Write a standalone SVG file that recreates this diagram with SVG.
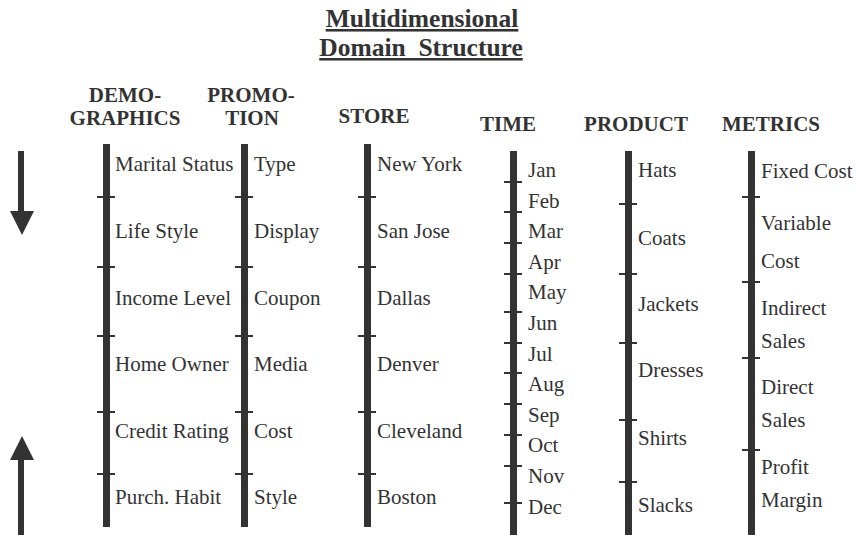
<svg xmlns="http://www.w3.org/2000/svg" width="856" height="535" viewBox="0 0 856 535" font-family="'Liberation Serif', 'Times New Roman', Times, serif">
<style>
.t{font-size:21px;fill:#333}
.h{font-size:21px;font-weight:bold;fill:#333;text-anchor:middle}
.ti{font-size:25.5px;font-weight:bold;fill:#333;text-anchor:middle;text-decoration:underline}
.bar{fill:#333}
.tick{stroke:#333;stroke-width:2}
</style>
<rect width="856" height="535" fill="#fff"/>
<g id="title">
<text class="ti" x="422" y="27">Multidimensional</text>
<text class="ti" x="421" y="56" xml:space="preserve">Domain  Structure</text>
</g>
<g id="arrows">
<rect class="bar" x="18" y="151" width="6" height="62"/>
<polygon class="bar" points="10,211 34,211 22,235"/>
<rect class="bar" x="18" y="458" width="6" height="77"/>
<polygon class="bar" points="22,436 10,460 34,460"/>
</g>
<g id="demographics">
<text class="h" x="125" y="102">DEMO-</text>
<text class="h" x="125" y="125">GRAPHICS</text>
<rect class="bar" x="103" y="144" width="7" height="383"/>
<path class="tick" d="M97 197H115M97 267H115M97 336H115M97 412H115M97 474H115"/>
<text class="t" x="115" y="171">Marital Status</text>
<text class="t" x="115" y="238">Life Style</text>
<text class="t" x="115" y="305">Income Level</text>
<text class="t" x="115" y="371">Home Owner</text>
<text class="t" x="115" y="438">Credit Rating</text>
<text class="t" x="115" y="504">Purch. Habit</text>
</g>
<g id="promotion">
<text class="h" x="251" y="102">PROMO-</text>
<text class="h" x="252" y="125">TION</text>
<rect class="bar" x="241" y="144" width="7" height="383"/>
<path class="tick" d="M235 197H253M235 267H253M235 336H253M235 412H253M235 474H253"/>
<text class="t" x="254" y="171">Type</text>
<text class="t" x="254" y="238">Display</text>
<text class="t" x="254" y="305">Coupon</text>
<text class="t" x="254" y="371">Media</text>
<text class="t" x="254" y="438">Cost</text>
<text class="t" x="254" y="504">Style</text>
</g>
<g id="store">
<text class="h" x="374" y="123">STORE</text>
<rect class="bar" x="364" y="144" width="7" height="383"/>
<path class="tick" d="M358 197H376M358 267H376M358 336H376M358 412H376M358 474H376"/>
<text class="t" x="377" y="171">New York</text>
<text class="t" x="377" y="238">San Jose</text>
<text class="t" x="377" y="305">Dallas</text>
<text class="t" x="377" y="371">Denver</text>
<text class="t" x="377" y="438">Cleveland</text>
<text class="t" x="377" y="504">Boston</text>
</g>
<g id="time">
<text class="h" x="508" y="131">TIME</text>
<rect class="bar" x="510" y="151" width="7" height="384"/>
<path class="tick" d="M504 182H522M504 212H522M504 243H522M504 274H522M504 312H522M504 343H522M504 373H522M504 404H522M504 435H522M504 466H522M504 503H522"/>
<text class="t" x="528" y="177">Jan</text>
<text class="t" x="528" y="208">Feb</text>
<text class="t" x="528" y="238">Mar</text>
<text class="t" x="528" y="269">Apr</text>
<text class="t" x="528" y="299">May</text>
<text class="t" x="528" y="330">Jun</text>
<text class="t" x="528" y="361">Jul</text>
<text class="t" x="528" y="391">Aug</text>
<text class="t" x="528" y="422">Sep</text>
<text class="t" x="528" y="452">Oct</text>
<text class="t" x="528" y="483">Nov</text>
<text class="t" x="528" y="514">Dec</text>
</g>
<g id="product">
<text class="h" x="636" y="131">PRODUCT</text>
<rect class="bar" x="625" y="151" width="7" height="384"/>
<path class="tick" d="M619 204H637M619 274H637M619 343H637M619 420H637M619 482H637"/>
<text class="t" x="638" y="177">Hats</text>
<text class="t" x="638" y="245">Coats</text>
<text class="t" x="638" y="311">Jackets</text>
<text class="t" x="638" y="377">Dresses</text>
<text class="t" x="638" y="445">Shirts</text>
<text class="t" x="638" y="512">Slacks</text>
</g>
<g id="metrics">
<text class="h" x="771" y="131">METRICS</text>
<rect class="bar" x="748" y="151" width="7" height="384"/>
<path class="tick" d="M742 197H760M742 282H760M742 358H760M742 450H760"/>
<text class="t" x="761" y="178">Fixed Cost</text>
<text class="t" x="761" y="230">Variable</text>
<text class="t" x="761" y="268">Cost</text>
<text class="t" x="761" y="315">Indirect</text>
<text class="t" x="761" y="348">Sales</text>
<text class="t" x="761" y="394">Direct</text>
<text class="t" x="761" y="427">Sales</text>
<text class="t" x="761" y="474">Profit</text>
<text class="t" x="761" y="507">Margin</text>
</g>
</svg>
